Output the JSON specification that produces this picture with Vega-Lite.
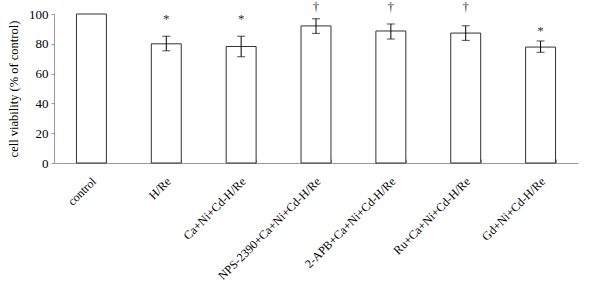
{
  "$schema": "https://vega.github.io/schema/vega-lite/v6.json",
  "autosize": "none",
  "width": 524,
  "height": 149,
  "padding": {"left": 54, "top": 14, "right": 22, "bottom": 125},
  "background": "white",
  "config": {
    "view": {"stroke": null},
    "font": "Liberation Serif",
    "axis": {"labelFont": "Liberation Serif", "titleFont": "Liberation Serif", "labelColor": "black", "titleColor": "black", "domainColor": "#999999", "tickColor": "#999999", "grid": false},
    "axisY": {"values": [0, 20, 40, 60, 80, 100], "tickCount": 6, "labelOverlap": false, "labelFontSize": 13, "tickSize": 3, "labelPadding": 3, "titlePadding": 8, "titleFontSize": 12.5, "titleFontWeight": "normal"}
  },
  "data": {
    "values": [
      {"cat": "control", "value": 100, "lo": null, "hi": null, "sym": "", "symy": 100},
      {"cat": "H/Re", "value": 80, "lo": 75.3, "hi": 85.1, "sym": "*", "symy": 96.5},
      {"cat": "Ca+Ni+Cd-H/Re", "value": 78.2, "lo": 71.3, "hi": 85.1, "sym": "*", "symy": 96.5},
      {"cat": "NPS-2390+Ca+Ni+Cd-H/Re", "value": 92, "lo": 87, "hi": 96.8, "sym": "†", "symy": 104.5},
      {"cat": "2-APB+Ca+Ni+Cd-H/Re", "value": 88.6, "lo": 83.2, "hi": 93.3, "sym": "†", "symy": 104.5},
      {"cat": "Ru+Ca+Ni+Cd-H/Re", "value": 87.2, "lo": 82.3, "hi": 92.1, "sym": "†", "symy": 104.5},
      {"cat": "Gd+Ni+Cd-H/Re", "value": 77.8, "lo": 74.3, "hi": 81.9, "sym": "*", "symy": 88.5}
    ]
  },
  "encoding": {
    "x": {
      "field": "cat", "type": "nominal", "sort": null,
      "scale": {"paddingInner": 0.6, "paddingOuter": 0.3},
      "axis": {"title": null, "labelAngle": -45, "labelFontSize": 12, "labelPadding": 20, "labelOffset": 2, "labelAlign": "right", "labelBaseline": "middle", "tickBand": "extent", "tickSize": -4, "labelLimit": 300}
    }
  },
  "layer": [
    {
      "mark": {"type": "bar", "fill": "white", "stroke": "#333333", "strokeWidth": 1},
      "encoding": {
        "y": {"field": "value", "type": "quantitative",
          "scale": {"domain": [0, 100], "nice": false},
          "axis": {"title": "cell viability (% of control)"}}
      }
    },
    {
      "mark": {"type": "rule", "color": "black", "strokeWidth": 1},
      "encoding": {"y": {"field": "lo", "type": "quantitative"}, "y2": {"field": "hi"}}
    },
    {
      "mark": {"type": "tick", "color": "black", "thickness": 1, "size": 8},
      "encoding": {"y": {"field": "lo", "type": "quantitative"}}
    },
    {
      "mark": {"type": "tick", "color": "black", "thickness": 1, "size": 8},
      "encoding": {"y": {"field": "hi", "type": "quantitative"}}
    },
    {
      "mark": {"type": "text", "fontSize": 13, "fill": "#333333", "baseline": "middle"},
      "encoding": {"y": {"field": "symy", "type": "quantitative"}, "text": {"field": "sym"}}
    }
  ]
}
